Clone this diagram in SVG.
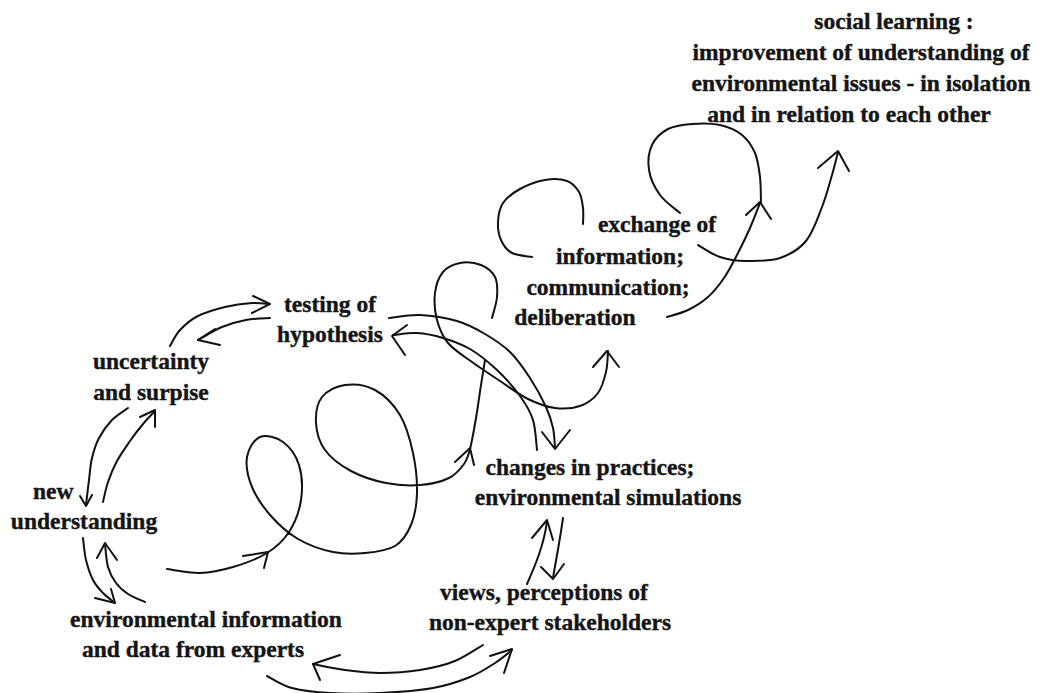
<svg xmlns="http://www.w3.org/2000/svg" width="1044" height="693" viewBox="0 0 1044 693">
<style>
text{font-family:"Liberation Serif","Times New Roman",serif;font-weight:bold;font-size:23.5px;fill:#151515;stroke:#151515;stroke-width:0.4;text-anchor:middle}
.c path{fill:none;stroke:#111;stroke-width:2;stroke-linecap:round;stroke-linejoin:round}
</style>
<rect width="1044" height="693" fill="#fff"/>
<g id="social-learning">
<text x="894" y="29">social learning :</text>
<text x="861" y="60">improvement of understanding of</text>
<text x="861" y="91">environmental issues - in isolation</text>
<text x="849" y="122">and in relation to each other</text>
</g>
<g id="exchange">
<text x="657" y="232">exchange of</text>
<text x="620" y="264">information;</text>
<text x="608" y="295">communication;</text>
<text x="575" y="325">deliberation</text>
</g>
<g id="testing">
<text x="330" y="312">testing of</text>
<text x="330" y="342">hypothesis</text>
</g>
<g id="uncertainty">
<text x="151" y="369">uncertainty</text>
<text x="151" y="400">and surpise</text>
</g>
<g id="new-understanding">
<text x="33" y="499" style="text-anchor:start">new</text>
<text x="84" y="529">understanding</text>
</g>
<g id="env-info">
<text x="206" y="627">environmental information</text>
<text x="193" y="657">and data from experts</text>
</g>
<g id="changes">
<text x="590" y="475">changes in practices;</text>
<text x="608" y="505">environmental simulations</text>
</g>
<g id="views">
<text x="544" y="600">views, perceptions of</text>
<text x="550" y="630">non-expert stakeholders</text>
</g>
<g id="connectors" class="c">
<!-- main loops from env info -->
<path d="M167,569 C172.5,569.7 189,573.3 200,573 C211,572.7 221.8,570.3 233,567 C244.2,563.7 257.7,558.8 267,553 C276.3,547.2 283.3,540.8 289,532 C294.7,523.2 299.3,511.2 301,500 C302.7,488.8 302,474.7 299,465 C296,455.3 289.5,446.7 283,442 C276.5,437.3 266,434.5 260,437 C254,439.5 248.3,448.7 247,457 C245.7,465.3 248,477.2 252,487 C256,496.8 263.3,507.3 271,516 C278.7,524.7 287.7,533 298,539 C308.3,545 321.8,549.7 333,552 C344.2,554.3 354.7,554 365,553 C375.3,552 387.3,550.7 395,546 C402.7,541.3 407.3,533.8 411,525 C414.7,516.2 416.7,505 417,493 C417.3,481 415.8,466 413,453 C410.2,440 406.3,425.5 400,415 C393.7,404.5 384.2,395 375,390 C365.8,385 353.8,383.8 345,385 C336.2,386.2 326.8,390.7 322,397 C317.2,403.3 315.5,414.2 316,423 C316.5,431.8 319.2,442 325,450 C330.8,458 340.8,465.5 351,471 C361.2,476.5 374.5,480.7 386,483 C397.5,485.3 409.5,485.8 420,485 C430.5,484.2 441.7,481.5 449,478 C456.3,474.5 460.5,468.8 464,464 C467.5,459.2 468,456.7 470,449 C472,441.3 474.2,428.7 476,418 C477.8,407.3 479.5,394.7 481,385 C482.5,375.3 484.3,364.2 485,360"/>
<path d="M243,556 L268,552 L264,568"/>
<path d="M455,462 L470,448 L474,465"/>
<!-- testing -> changes -->
<path d="M389,318 C394.2,317.5 408.7,314.5 420,315 C431.3,315.5 446.2,317.8 457,321 C467.8,324.2 476.2,328.8 485,334 C493.8,339.2 502.5,344.7 510,352 C517.5,359.3 524,368.8 530,378 C536,387.2 542.2,398.7 546,407 C549.8,415.3 551.5,421.2 553,428 C554.5,434.8 554.7,444.7 555,448"/>
<path d="M542,432 L555,449 L570,430"/>
<!-- changes -> testing -->
<path d="M537,450 C536.3,445 535.8,429 533,420 C530.2,411 526,404.3 520,396 C514,387.7 505.3,377.8 497,370 C488.7,362.2 479,354.3 470,349 C461,343.7 451.8,340.7 443,338 C434.2,335.3 425.3,333.5 417,333 C408.7,332.5 397,334.7 393,335"/>
<path d="M407,325 L392,336 L405,355"/>
<!-- loop to deliberation -->
<path d="M492,318 C492.8,314.5 496.5,303.8 497,297 C497.5,290.2 497.7,282.3 495,277 C492.3,271.7 486.8,267.3 481,265 C475.2,262.7 466.3,261.8 460,263 C453.7,264.2 447.2,267 443,272 C438.8,277 436,285 435,293 C434,301 434.8,311.7 437,320 C439.2,328.3 442.2,336 448,343 C453.8,350 463.3,355.7 472,362 C480.7,368.3 490.7,374.8 500,381 C509.3,387.2 518.8,394.5 528,399 C537.2,403.5 546.3,406.8 555,408 C563.7,409.2 572.8,408.5 580,406 C587.2,403.5 593.7,398.7 598,393 C602.3,387.3 604.3,379 606,372 C607.7,365 607.7,354.5 608,351"/>
<path d="M593,367 L607,351 L619,367"/>
<!-- exchange left loop -->
<path d="M532,257 C528.7,256.3 517.2,255.8 512,253 C506.8,250.2 503.3,245.2 501,240 C498.7,234.8 497.7,228.2 498,222 C498.3,215.8 499.3,208.5 503,203 C506.7,197.5 513,192.8 520,189 C527,185.2 537.2,181.3 545,180 C552.8,178.7 561.3,179 567,181 C572.7,183 576.3,187.5 579,192 C581.7,196.5 582.3,202.7 583,208 C583.7,213.3 583,221.3 583,224"/>
<!-- deliberation up -->
<path d="M667,317 C670.5,315.8 681.2,313.3 688,310 C694.8,306.7 702,302.3 708,297 C714,291.7 719,285.3 724,278 C729,270.7 733.7,261.3 738,253 C742.3,244.7 746.3,236.3 750,228 C753.7,219.7 758.3,207.2 760,203"/>
<path d="M746,215 L760,202 L771,219"/>
<!-- upper loop -->
<path d="M680,213 C676.7,210 665.2,202.2 660,195 C654.8,187.8 650.3,178.3 649,170 C647.7,161.7 648.8,151.8 652,145 C655.2,138.2 661.3,132.5 668,129 C674.7,125.5 683.3,124.7 692,124 C700.7,123.3 711.7,123.2 720,125 C728.3,126.8 736.2,130.3 742,135 C747.8,139.7 752,146 755,153 C758,160 759,168.7 760,177 C761,185.3 760.8,198.7 761,203"/>
<!-- to social learning -->
<path d="M698,245 C701.7,247 711.8,254.3 720,257 C728.2,259.7 737,261.2 747,261 C757,260.8 770.2,261.3 780,258 C789.8,254.7 799,249.5 806,241 C813,232.5 817.7,218 822,207 C826.3,196 829.3,184.2 832,175 C834.7,165.8 837,155.8 838,152"/>
<path d="M818,168 L838,151 L849,171"/>
<!-- left cycle -->
<path d="M170,346 C171.7,343.3 175.3,335 180,330 C184.7,325 190.5,319.8 198,316 C205.5,312.2 216,309.2 225,307 C234,304.8 244.7,303.5 252,303 C259.3,302.5 266.2,303.8 269,304"/>
<path d="M253,296 L270,304 L252,313"/>
<path d="M270,318 C266,318.3 254,318.5 246,320 C238,321.5 230,323.7 222,327 C214,330.3 202,337.8 198,340"/>
<path d="M215,329 L198,340 L220,345"/>
<path d="M103,502 C103.8,498.7 105.7,488.8 108,482 C110.3,475.2 113.3,467.8 117,461 C120.7,454.2 125.7,447.2 130,441 C134.3,434.8 138.8,429 143,424 C147.2,419 153,413.2 155,411"/>
<path d="M140,417 L155,410 L155,427"/>
<path d="M128,408 C125.3,410 116.8,415 112,420 C107.2,425 102.3,431.7 99,438 C95.7,444.3 93.7,451 92,458 C90.3,465 90,472.2 89,480 C88,487.8 86.5,500.8 86,505"/>
<path d="M80,496 L86,506 L92,495"/>
<path d="M83,538 C83.5,541.7 84.3,553 86,560 C87.7,567 90.2,574.5 93,580 C95.8,585.5 99.3,589.2 103,593 C106.7,596.8 113,601.3 115,603"/>
<path d="M95,598 L115,603 L111,589"/>
<path d="M145,602 C142.2,600.7 132.8,597.2 128,594 C123.2,590.8 119.3,587.5 116,583 C112.7,578.5 109.8,573.5 108,567 C106.2,560.5 105.5,547.8 105,544"/>
<path d="M97,558 L105,543 L117,560"/>
<!-- bottom -->
<path d="M483,645 C478.3,647.7 465.5,656.8 455,661 C444.5,665.2 432.5,668 420,670 C407.5,672 392.5,673 380,673 C367.5,673 356.2,671.5 345,670 C333.8,668.5 318.3,665 313,664"/>
<path d="M340,655 L313,664 L320,680"/>
<path d="M267,676 C271.2,678 281.5,685.2 292,688 C302.5,690.8 315.3,692.2 330,693 C344.7,693.8 362.8,693.8 380,693 C397.2,692.2 418,690.7 433,688 C448,685.3 459.7,681.2 470,677 C480.3,672.8 488,667.5 495,663 C502,658.5 509.2,652.2 512,650"/>
<path d="M490,656 L512,649 L504,673"/>
<!-- changes <-> views -->
<path d="M527,584 C535,566 544,545 547,521"/>
<path d="M532,538 L547,520 L553,540"/>
<path d="M563,518 C560,540 556,560 553,578"/>
<path d="M541,567 L553,579 L564,564"/>
</g>
</svg>
